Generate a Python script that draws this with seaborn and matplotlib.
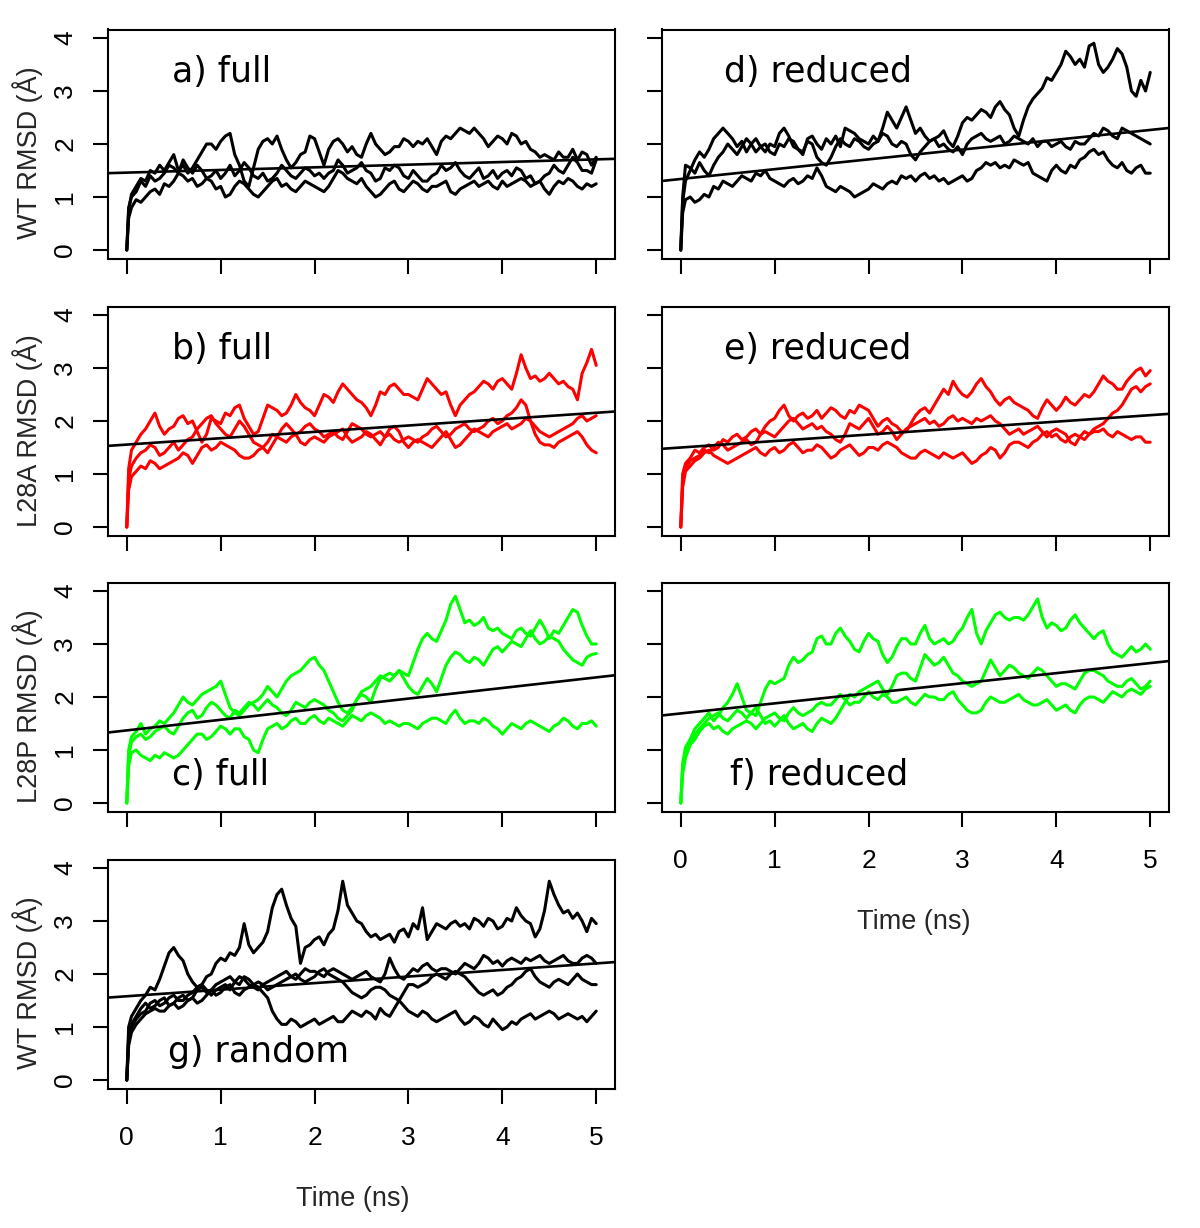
import matplotlib
matplotlib.use("Agg")
import matplotlib.pyplot as plt
import pandas as pd
import seaborn as sns

# ---------------- data ----------------
TIME = [0.0, 0.02,
        0.05, 0.1, 0.15, 0.2, 0.25, 0.3, 0.35, 0.4, 0.45, 0.5,
        0.55, 0.6, 0.65, 0.7, 0.75, 0.8, 0.85, 0.9, 0.95, 1.0,
        1.05, 1.1, 1.15, 1.2, 1.25, 1.3, 1.35, 1.4, 1.45, 1.5,
        1.55, 1.6, 1.65, 1.7, 1.75, 1.8, 1.85, 1.9, 1.95, 2.0,
        2.05, 2.1, 2.15, 2.2, 2.25, 2.3, 2.35, 2.4, 2.45, 2.5,
        2.55, 2.6, 2.65, 2.7, 2.75, 2.8, 2.85, 2.9, 2.95, 3.0,
        3.05, 3.1, 3.15, 3.2, 3.25, 3.3, 3.35, 3.4, 3.45, 3.5,
        3.55, 3.6, 3.65, 3.7, 3.75, 3.8, 3.85, 3.9, 3.95, 4.0,
        4.05, 4.1, 4.15, 4.2, 4.25, 4.3, 4.35, 4.4, 4.45, 4.5,
        4.55, 4.6, 4.65, 4.7, 4.75, 4.8, 4.85, 4.9, 4.95, 5.0]

# a) WT full
A_1 = [0, 0.75,
       1.05, 1.2, 1.35, 1.3, 1.5, 1.45, 1.6, 1.5, 1.65, 1.8,
       1.5, 1.6, 1.45, 1.55, 1.7, 1.85, 2.0, 2.0, 1.9, 2.05,
       2.15, 2.2, 1.8, 1.6, 1.3, 1.2, 1.55, 1.9, 2.05, 2.1,
       2.0, 2.15, 1.9, 1.7, 1.55, 1.65, 1.8, 1.85, 2.15, 2.1,
       1.85, 1.6, 1.9, 2.05, 2.1, 2.0, 1.85, 1.95, 1.8, 1.75,
       2.0, 2.2, 2.0, 1.9, 1.8, 1.85, 1.95, 1.95, 2.1, 2.05,
       1.95, 2.05, 2.0, 2.1, 1.95, 1.8, 2.05, 2.15, 2.1, 2.2,
       2.3, 2.25, 2.2, 2.3, 2.2, 2.1, 1.95, 2.05, 2.15, 2.1,
       2.0, 2.2, 2.15, 2.0, 2.05, 1.9, 1.85, 1.75, 1.8, 1.75,
       1.7, 1.85, 1.75, 1.75, 1.9, 1.7, 1.85, 1.8, 1.6, 1.75]
A_2 = [0, 0.8,
       1.0, 1.1, 1.3, 1.2, 1.4, 1.3, 1.35, 1.45, 1.6, 1.55,
       1.45, 1.7, 1.55, 1.45, 1.6, 1.5, 1.35, 1.4, 1.5, 1.35,
       1.45, 1.6, 1.4, 1.5, 1.65, 1.55, 1.4, 1.35, 1.45, 1.3,
       1.35, 1.45, 1.6, 1.5, 1.4, 1.35, 1.45, 1.55, 1.5, 1.4,
       1.45, 1.35, 1.45, 1.5, 1.7, 1.6, 1.45, 1.5, 1.55, 1.65,
       1.5, 1.45, 1.3, 1.35, 1.55, 1.5, 1.6, 1.55, 1.4, 1.35,
       1.5, 1.4, 1.3, 1.3, 1.4, 1.45, 1.6, 1.5, 1.55, 1.65,
       1.5, 1.4, 1.35, 1.45, 1.55, 1.35, 1.4, 1.5, 1.35, 1.45,
       1.5, 1.4, 1.55, 1.5, 1.35, 1.4, 1.25, 1.3, 1.4, 1.45,
       1.6, 1.5, 1.45, 1.6, 1.75, 1.65, 1.5, 1.5, 1.45, 1.7]
A_3 = [0, 0.6,
       0.8, 0.95, 0.9, 1.0, 1.1, 1.15, 1.05, 1.25, 1.2, 1.3,
       1.45, 1.4, 1.3, 1.35, 1.2, 1.25, 1.35, 1.3, 1.15, 1.2,
       1.0, 1.05, 1.2, 1.3, 1.25, 1.15, 1.05, 1.0, 1.1, 1.2,
       1.3, 1.35, 1.2, 1.25, 1.15, 1.1, 1.2, 1.3, 1.25, 1.2,
       1.15, 1.1, 1.2, 1.35, 1.5, 1.45, 1.35, 1.3, 1.25, 1.35,
       1.2, 1.1, 1.0, 1.05, 1.15, 1.25, 1.3, 1.15, 1.1, 1.2,
       1.3, 1.25, 1.15, 1.1, 1.2, 1.2, 1.25, 1.3, 1.1, 1.05,
       1.15, 1.2, 1.25, 1.3, 1.2, 1.25, 1.3, 1.2, 1.15, 1.3,
       1.2, 1.25, 1.3, 1.35, 1.3, 1.2, 1.25, 1.3, 1.15, 1.05,
       1.2, 1.3, 1.25, 1.35, 1.3, 1.2, 1.15, 1.25, 1.2, 1.25]

# d) WT reduced
D_1 = [0, 0.9,
       1.3, 1.5, 1.7, 1.85, 1.75, 1.9, 2.1, 2.2, 2.3, 2.2,
       2.1, 1.95, 2.05, 1.85, 2.0, 2.1, 1.95, 1.85, 2.0, 1.95,
       2.2, 2.3, 2.15, 1.95, 1.9, 1.8, 2.1, 2.15, 2.0, 1.9,
       2.1, 2.0, 2.15, 1.95, 2.3, 2.25, 2.2, 2.1, 2.05, 2.0,
       2.15, 2.05, 2.3, 2.6, 2.45, 2.3, 2.5, 2.7, 2.45, 2.2,
       2.3, 2.15, 2.05, 2.1, 2.15, 2.25, 2.05, 1.95, 2.15, 2.4,
       2.5, 2.45, 2.55, 2.65, 2.6, 2.5, 2.7, 2.8, 2.65, 2.55,
       2.3, 2.15, 2.45, 2.7, 2.85, 2.95, 3.05, 3.25, 3.2, 3.35,
       3.5, 3.75, 3.65, 3.5, 3.6, 3.45, 3.85, 3.9, 3.5, 3.35,
       3.45, 3.6, 3.8, 3.7, 3.45, 3.0, 2.9, 3.2, 3.0, 3.35]
D_2 = [0, 1.0,
       1.6, 1.55, 1.45, 1.65, 1.5, 1.4, 1.6, 1.75, 1.85, 2.0,
       1.9, 1.8, 1.95, 2.1, 2.0, 1.85, 1.95, 2.0, 1.85, 1.8,
       2.0, 1.95, 2.1, 2.05, 1.9, 1.85, 2.05, 2.0, 1.75, 1.65,
       1.6, 1.75, 1.95, 2.1, 2.0, 1.95, 2.1, 2.05, 1.95, 1.9,
       2.0, 2.05, 2.2, 2.15, 2.0, 1.95, 2.05, 2.0, 1.8, 1.7,
       1.85, 1.95, 2.05, 2.1, 1.95, 2.0, 1.9, 1.85, 1.95, 1.8,
       2.0, 2.1, 2.15, 2.2, 2.1, 2.05, 2.1, 2.15, 2.0, 2.05,
       2.15, 2.1, 2.05, 2.0, 2.1, 1.95, 2.05, 2.05, 1.95, 2.0,
       2.05, 1.95, 1.9, 2.05, 2.0, 2.0, 2.1, 2.2, 2.15, 2.3,
       2.25, 2.15, 2.1, 2.3, 2.25, 2.2, 2.15, 2.1, 2.05, 2.0]
D_3 = [0, 0.7,
       0.95, 1.0, 0.9, 0.95, 1.05, 1.0, 1.2, 1.15, 1.3, 1.25,
       1.2, 1.3, 1.4, 1.35, 1.3, 1.45, 1.4, 1.5, 1.35, 1.3,
       1.25, 1.2, 1.3, 1.35, 1.25, 1.3, 1.4, 1.35, 1.55, 1.4,
       1.2, 1.15, 1.1, 1.2, 1.15, 1.1, 1.0, 1.05, 1.1, 1.15,
       1.25, 1.2, 1.15, 1.25, 1.3, 1.25, 1.4, 1.35, 1.4, 1.3,
       1.4, 1.45, 1.35, 1.4, 1.3, 1.35, 1.25, 1.3, 1.35, 1.4,
       1.3, 1.35, 1.5, 1.55, 1.65, 1.6, 1.65, 1.55, 1.6, 1.55,
       1.7, 1.65, 1.6, 1.65, 1.45, 1.4, 1.35, 1.3, 1.5, 1.6,
       1.5, 1.45, 1.6, 1.55, 1.7, 1.75, 1.85, 1.9, 1.8, 1.85,
       1.7, 1.6, 1.55, 1.65, 1.5, 1.45, 1.55, 1.6, 1.45, 1.45]

# b) L28A full
B_1 = [0, 1.1,
       1.45, 1.6, 1.75, 1.85, 2.0, 2.15, 1.9, 1.75, 1.85, 1.9,
       2.05, 2.1, 1.95, 2.0, 1.8, 1.6, 1.75, 2.05, 2.0, 1.95,
       2.15, 2.1, 2.25, 2.3, 2.05, 1.9, 1.75, 1.8, 2.05, 2.3,
       2.25, 2.2, 2.1, 2.15, 2.3, 2.5, 2.35, 2.25, 2.2, 2.1,
       2.3, 2.5, 2.45, 2.35, 2.55, 2.7, 2.6, 2.5, 2.4, 2.35,
       2.25, 2.1, 2.3, 2.55, 2.5, 2.65, 2.7, 2.6, 2.5, 2.5,
       2.45, 2.4, 2.6, 2.8, 2.7, 2.6, 2.5, 2.55, 2.3, 2.1,
       2.3, 2.4, 2.5, 2.55, 2.65, 2.75, 2.7, 2.6, 2.75, 2.8,
       2.7, 2.6, 2.9, 3.25, 3.0, 2.8, 2.85, 2.75, 2.8, 2.9,
       2.8, 2.7, 2.75, 2.65, 2.6, 2.4, 2.9, 3.1, 3.35, 3.05]
B_2 = [0, 0.9,
       1.15, 1.3, 1.4, 1.45, 1.55, 1.5, 1.35, 1.4, 1.5, 1.6,
       1.45, 1.55, 1.65, 1.7, 1.85, 1.95, 2.05, 2.1, 1.95, 1.85,
       1.75, 1.7, 1.85, 2.0, 1.9, 1.75, 1.6, 1.55, 1.5, 1.6,
       1.75, 1.7, 1.85, 1.95, 1.85, 1.75, 1.8, 1.9, 1.95, 1.85,
       1.8, 1.7, 1.75, 1.8, 1.7, 1.65, 1.8, 1.95, 1.9, 1.85,
       1.75, 1.7, 1.75, 1.8, 1.7, 1.75, 1.65, 1.6, 1.65, 1.7,
       1.65, 1.6, 1.7, 1.75, 1.85, 1.9, 1.8, 1.7, 1.75, 1.85,
       1.9, 1.95, 1.85, 1.8, 1.85, 1.9, 2.0, 2.05, 1.95, 2.0,
       2.1, 2.15, 2.25, 2.4, 2.3, 2.0, 1.75, 1.6, 1.55, 1.55,
       1.5, 1.6, 1.65, 1.7, 1.75, 1.8, 1.7, 1.55, 1.45, 1.4]
B_3 = [0, 0.7,
       0.95, 1.05, 1.15, 1.1, 1.25, 1.2, 1.1, 1.15, 1.2, 1.25,
       1.3, 1.4, 1.35, 1.2, 1.35, 1.5, 1.55, 1.45, 1.5, 1.6,
       1.55, 1.5, 1.45, 1.35, 1.3, 1.3, 1.35, 1.45, 1.5, 1.4,
       1.55, 1.7, 1.65, 1.6, 1.7, 1.75, 1.6, 1.55, 1.65, 1.7,
       1.65, 1.6, 1.7, 1.75, 1.8, 1.85, 1.7, 1.6, 1.65, 1.7,
       1.8, 1.75, 1.65, 1.55, 1.7, 1.85, 1.9, 1.8, 1.6, 1.5,
       1.6, 1.65, 1.6, 1.55, 1.5, 1.6, 1.7, 1.8, 1.65, 1.5,
       1.55, 1.65, 1.75, 1.85, 1.8, 1.75, 1.7, 1.8, 1.85, 1.9,
       1.95, 1.85, 1.9, 1.95, 2.05, 2.0, 1.9, 1.8, 1.75, 1.7,
       1.75, 1.8, 1.85, 1.9, 1.95, 2.05, 2.1, 2.0, 2.05, 2.1]

# e) L28A reduced
E_1 = [0, 1.0,
       1.2, 1.3, 1.45, 1.4, 1.5, 1.55, 1.45, 1.5, 1.65, 1.6,
       1.7, 1.75, 1.65, 1.7, 1.8, 1.85, 1.75, 1.9, 2.0, 2.05,
       2.2, 2.3, 2.1, 2.0, 2.1, 2.15, 2.05, 2.1, 2.2, 2.05,
       2.15, 2.25, 2.2, 2.1, 2.05, 2.2, 2.15, 2.3, 2.25, 2.2,
       2.05, 1.9, 2.0, 2.05, 1.95, 1.9, 1.8, 1.8, 1.95, 2.1,
       2.2, 2.25, 2.15, 2.3, 2.45, 2.6, 2.5, 2.75, 2.6, 2.5,
       2.45, 2.55, 2.7, 2.8, 2.65, 2.55, 2.4, 2.3, 2.4, 2.45,
       2.35, 2.3, 2.25, 2.2, 2.1, 2.05, 2.25, 2.4, 2.3, 2.2,
       2.3, 2.45, 2.35, 2.3, 2.4, 2.5, 2.45, 2.55, 2.7, 2.85,
       2.75, 2.7, 2.6, 2.6, 2.75, 2.85, 2.95, 3.0, 2.85, 2.95]
E_2 = [0, 0.85,
       1.1, 1.25, 1.3, 1.35, 1.45, 1.4, 1.5, 1.6, 1.55, 1.45,
       1.5, 1.55, 1.6, 1.65, 1.55, 1.6, 1.75, 1.8, 1.75, 1.7,
       1.8, 1.9, 2.0, 2.05, 1.95, 1.85, 1.9, 1.95, 1.85, 1.9,
       1.8, 1.75, 1.65, 1.6, 1.75, 1.95, 1.9, 1.85, 1.95, 2.05,
       1.9, 1.75, 1.8, 1.9, 1.8, 1.65, 1.75, 1.85, 1.9, 1.95,
       2.0, 2.05, 1.95, 2.0, 1.9, 1.95, 2.05, 2.1, 2.0, 2.05,
       2.0, 1.95, 2.05, 2.0, 2.05, 2.1, 2.0, 1.95, 1.85, 1.75,
       1.8, 1.85, 1.75, 1.8, 1.85, 1.9, 1.8, 1.7, 1.8, 1.85,
       1.8, 1.75, 1.6, 1.55, 1.7, 1.8, 1.75, 1.85, 1.9, 1.95,
       2.05, 2.15, 2.2, 2.3, 2.45, 2.6, 2.65, 2.55, 2.65, 2.7]
E_3 = [0, 0.75,
       1.05, 1.15, 1.25, 1.3, 1.4, 1.45, 1.35, 1.3, 1.25, 1.2,
       1.25, 1.3, 1.35, 1.4, 1.45, 1.5, 1.4, 1.35, 1.45, 1.5,
       1.4, 1.45, 1.55, 1.6, 1.5, 1.4, 1.45, 1.45, 1.55, 1.5,
       1.4, 1.3, 1.35, 1.45, 1.5, 1.55, 1.45, 1.35, 1.4, 1.5,
       1.5, 1.45, 1.55, 1.6, 1.55, 1.5, 1.4, 1.35, 1.3, 1.3,
       1.4, 1.45, 1.4, 1.35, 1.3, 1.4, 1.35, 1.3, 1.35, 1.4,
       1.3, 1.2, 1.25, 1.35, 1.4, 1.5, 1.45, 1.3, 1.4, 1.55,
       1.6, 1.6, 1.55, 1.5, 1.6, 1.65, 1.75, 1.8, 1.7, 1.75,
       1.65, 1.6, 1.7, 1.75, 1.7, 1.65, 1.75, 1.8, 1.8, 1.85,
       1.75, 1.7, 1.8, 1.75, 1.7, 1.65, 1.7, 1.7, 1.6, 1.6]

# c) L28P full
C_1 = [0, 1.0,
       1.25, 1.35, 1.5, 1.3, 1.4, 1.45, 1.55, 1.5, 1.6, 1.7,
       1.85, 2.0, 1.9, 1.85, 1.95, 2.05, 2.1, 2.15, 2.2, 2.3,
       2.05, 1.8, 1.7, 1.65, 1.75, 1.85, 1.9, 1.95, 2.05, 2.2,
       2.1, 2.0, 2.15, 2.3, 2.4, 2.45, 2.5, 2.6, 2.7, 2.75,
       2.6, 2.5, 2.3, 2.1, 1.9, 1.75, 1.7, 1.8, 1.95, 2.05,
       2.0, 1.9, 2.15, 2.35, 2.4, 2.45, 2.4, 2.5, 2.45, 2.4,
       2.65, 2.9, 3.1, 3.2, 3.1, 3.05, 3.25, 3.45, 3.75, 3.9,
       3.65, 3.4, 3.45, 3.35, 3.4, 3.5, 3.3, 3.25, 3.3, 3.2,
       3.15, 3.1, 3.25, 3.3, 3.2, 3.15, 3.3, 3.45, 3.3, 3.1,
       3.25, 3.2, 3.35, 3.5, 3.65, 3.6, 3.35, 3.15, 3.0, 3.0]
C_2 = [0, 0.9,
       1.15, 1.25, 1.3, 1.2, 1.25, 1.35, 1.4, 1.45, 1.35, 1.3,
       1.45, 1.6, 1.7, 1.75, 1.6, 1.65, 1.8, 1.9, 1.85, 1.75,
       1.65, 1.6, 1.75, 1.7, 1.8, 1.9, 1.85, 1.75, 1.85, 1.95,
       1.85, 1.8, 1.7, 1.65, 1.75, 1.9, 1.85, 1.8, 1.9, 1.95,
       1.9, 1.85, 1.75, 1.7, 1.6, 1.55, 1.65, 1.75, 1.95, 2.1,
       2.15, 2.2, 2.3, 2.4, 2.35, 2.3, 2.4, 2.5, 2.35, 2.2,
       2.1, 2.05, 2.2, 2.35, 2.25, 2.1, 2.35, 2.6, 2.75, 2.85,
       2.8, 2.7, 2.65, 2.75, 2.7, 2.6, 2.75, 2.9, 2.95, 2.85,
       2.95, 3.05, 3.0, 2.95, 3.1, 3.25, 3.1, 3.0, 3.05, 3.15,
       3.1, 3.05, 2.9, 2.8, 2.7, 2.65, 2.6, 2.75, 2.8, 2.82]
C_3 = [0, 0.7,
       0.95, 1.0, 0.9, 0.85, 0.8, 0.9, 0.85, 0.95, 0.9, 0.85,
       0.9, 1.0, 1.1, 1.2, 1.3, 1.3, 1.2, 1.25, 1.35, 1.45,
       1.4, 1.3, 1.4, 1.4, 1.25, 1.2, 1.0, 0.95, 1.2, 1.4,
       1.45, 1.5, 1.4, 1.45, 1.55, 1.6, 1.5, 1.5, 1.6, 1.65,
       1.55, 1.5, 1.6, 1.55, 1.5, 1.45, 1.55, 1.65, 1.6, 1.55,
       1.65, 1.7, 1.65, 1.6, 1.5, 1.55, 1.5, 1.45, 1.5, 1.5,
       1.45, 1.4, 1.5, 1.55, 1.6, 1.6, 1.55, 1.5, 1.65, 1.75,
       1.6, 1.5, 1.55, 1.55, 1.5, 1.6, 1.55, 1.45, 1.4, 1.3,
       1.4, 1.5, 1.45, 1.4, 1.5, 1.55, 1.5, 1.45, 1.4, 1.35,
       1.45, 1.5, 1.6, 1.55, 1.45, 1.4, 1.5, 1.5, 1.55, 1.45]

# f) L28P reduced
F_1 = [0, 0.75,
       1.05, 1.2, 1.4, 1.5, 1.6, 1.7, 1.55, 1.65, 1.8, 1.9,
       2.05, 2.25, 2.0, 1.75, 1.7, 1.65, 1.9, 2.15, 2.3, 2.25,
       2.3, 2.35, 2.6, 2.75, 2.65, 2.7, 2.8, 2.85, 3.1, 3.15,
       3.0, 3.0, 3.2, 3.3, 3.15, 3.05, 2.9, 2.85, 3.05, 3.2,
       3.1, 3.05, 2.8, 2.65, 2.75, 2.95, 3.1, 3.1, 3.0, 3.0,
       3.2, 3.35, 3.1, 3.0, 3.05, 3.1, 3.0, 3.05, 3.2, 3.3,
       3.5, 3.65, 3.2, 3.0, 3.25, 3.4, 3.55, 3.6, 3.5, 3.45,
       3.5, 3.5, 3.45, 3.55, 3.7, 3.85, 3.5, 3.3, 3.4, 3.35,
       3.25, 3.3, 3.45, 3.55, 3.4, 3.3, 3.2, 3.1, 3.2, 3.25,
       3.0, 2.85, 2.8, 2.75, 2.85, 2.95, 2.85, 2.9, 3.0, 2.9]
F_2 = [0, 0.65,
       0.95, 1.15, 1.3, 1.4, 1.5, 1.6, 1.65, 1.7, 1.6, 1.55,
       1.65, 1.75, 1.7, 1.6, 1.7, 1.8, 1.65, 1.5, 1.55, 1.45,
       1.55, 1.65, 1.5, 1.4, 1.45, 1.5, 1.4, 1.35, 1.5, 1.6,
       1.55, 1.5, 1.6, 1.75, 1.9, 2.05, 2.0, 2.1, 2.15, 2.2,
       2.25, 2.3, 2.15, 2.05, 2.2, 2.4, 2.45, 2.45, 2.35, 2.3,
       2.55, 2.8, 2.7, 2.6, 2.65, 2.75, 2.6, 2.45, 2.4, 2.3,
       2.25, 2.2, 2.25, 2.3, 2.5, 2.7, 2.55, 2.4, 2.5, 2.6,
       2.55, 2.45, 2.4, 2.35, 2.45, 2.55, 2.5, 2.4, 2.3, 2.2,
       2.25, 2.25, 2.2, 2.15, 2.3, 2.45, 2.5, 2.5, 2.45, 2.4,
       2.3, 2.25, 2.2, 2.2, 2.3, 2.35, 2.25, 2.15, 2.2, 2.3]
F_3 = [0, 0.55,
       0.85, 1.1, 1.2, 1.35, 1.45, 1.5, 1.4, 1.45, 1.35, 1.3,
       1.4, 1.45, 1.5, 1.55, 1.5, 1.4, 1.5, 1.6, 1.65, 1.7,
       1.6, 1.55, 1.7, 1.8, 1.7, 1.65, 1.7, 1.75, 1.85, 1.9,
       1.85, 1.85, 1.95, 2.05, 1.95, 1.85, 1.9, 1.9, 2.0, 2.1,
       2.0, 1.95, 2.05, 2.0, 1.9, 1.9, 1.95, 2.0, 1.9, 1.85,
       1.95, 2.05, 2.0, 2.0, 1.95, 1.95, 2.05, 2.1, 1.95, 1.85,
       1.75, 1.7, 1.7, 1.75, 1.9, 2.0, 1.95, 1.9, 1.9, 1.95,
       2.0, 2.05, 1.95, 1.9, 1.85, 1.85, 1.9, 1.95, 1.85, 1.75,
       1.8, 1.85, 1.75, 1.7, 1.85, 1.95, 2.0, 2.0, 1.95, 1.9,
       2.0, 2.1, 2.05, 2.0, 2.1, 2.15, 2.1, 2.05, 2.15, 2.2]

# g) WT random
G_1 = [0, 1.0,
       1.2, 1.35, 1.5, 1.6, 1.75, 1.7, 1.9, 2.15, 2.4, 2.5,
       2.35, 2.25, 2.0, 1.85, 1.75, 1.8, 1.95, 2.0, 2.2, 2.3,
       2.25, 2.4, 2.35, 2.5, 2.95, 2.55, 2.4, 2.5, 2.6, 2.8,
       3.25, 3.5, 3.6, 3.3, 3.05, 2.9, 2.2, 2.5, 2.55, 2.65,
       2.7, 2.55, 2.75, 2.85, 3.2, 3.75, 3.3, 3.15, 3.0, 2.95,
       2.8, 2.7, 2.75, 2.65, 2.7, 2.75, 2.6, 2.8, 2.85, 2.7,
       2.95, 2.85, 3.25, 2.65, 2.8, 2.95, 2.9, 2.85, 2.95, 3.0,
       2.9, 2.95, 2.85, 3.05, 3.0, 2.9, 3.05, 3.0, 2.85, 2.9,
       3.05, 3.0, 3.25, 3.1, 3.0, 2.95, 2.7, 2.85, 3.2, 3.75,
       3.5, 3.3, 3.15, 3.2, 3.05, 3.15, 3.0, 2.8, 3.05, 2.95]
G_2 = [0, 0.85,
       1.05, 1.2, 1.35, 1.45, 1.35, 1.4, 1.5, 1.55, 1.4, 1.45,
       1.55, 1.6, 1.5, 1.55, 1.7, 1.75, 1.65, 1.7, 1.8, 1.85,
       1.9, 1.95, 1.85, 1.8, 1.95, 1.9, 1.8, 1.75, 1.65, 1.55,
       1.3, 1.15, 1.05, 1.05, 1.15, 1.1, 1.0, 1.05, 1.1, 1.15,
       1.05, 1.1, 1.15, 1.2, 1.1, 1.1, 1.2, 1.3, 1.25, 1.2,
       1.3, 1.25, 1.15, 1.35, 1.25, 1.2, 1.35, 1.5, 1.4, 1.3,
       1.25, 1.2, 1.3, 1.25, 1.15, 1.1, 1.15, 1.2, 1.25, 1.3,
       1.15, 1.05, 1.1, 1.2, 1.15, 1.05, 1.0, 1.15, 1.05, 0.95,
       1.0, 1.1, 1.05, 1.15, 1.2, 1.25, 1.15, 1.2, 1.25, 1.3,
       1.25, 1.15, 1.2, 1.25, 1.2, 1.15, 1.2, 1.1, 1.2, 1.3]
G_3 = [0, 0.75,
       1.0, 1.15, 1.25, 1.3, 1.45, 1.5, 1.4, 1.45, 1.55, 1.6,
       1.5, 1.5, 1.6, 1.65, 1.75, 1.8, 1.7, 1.6, 1.7, 1.75,
       1.8, 1.7, 1.85, 1.95, 1.9, 1.8, 1.75, 1.7, 1.8, 1.85,
       1.9, 1.95, 2.0, 2.05, 1.95, 1.9, 2.0, 2.1, 2.05, 2.05,
       2.0, 1.95, 2.05, 2.1, 2.05, 2.0, 1.95, 1.9, 1.95, 2.0,
       2.05, 1.95, 1.9, 1.85, 2.0, 2.3, 2.1, 1.95, 1.9, 2.0,
       2.1, 2.05, 2.15, 2.2, 2.1, 2.05, 2.1, 2.1, 2.05, 2.0,
       2.1, 2.2, 2.15, 2.1, 2.2, 2.35, 2.3, 2.2, 2.25, 2.15,
       2.25, 2.3, 2.25, 2.2, 2.3, 2.25, 2.3, 2.35, 2.25, 2.2,
       2.25, 2.3, 2.35, 2.25, 2.2, 2.2, 2.3, 2.35, 2.3, 2.2]
G_4 = [0, 0.65,
       0.9, 1.05, 1.15, 1.25, 1.3, 1.35, 1.3, 1.3, 1.4, 1.45,
       1.35, 1.4, 1.5, 1.55, 1.45, 1.5, 1.6, 1.7, 1.6, 1.65,
       1.75, 1.8, 1.65, 1.6, 1.7, 1.75, 1.8, 1.85, 1.8, 1.7,
       1.75, 1.8, 1.85, 1.9, 1.95, 2.0, 1.9, 1.85, 1.9, 1.95,
       2.05, 2.1, 2.0, 1.95, 1.9, 1.85, 1.75, 1.65, 1.6, 1.55,
       1.6, 1.7, 1.75, 1.75, 1.7, 1.6, 1.55, 1.5, 1.65, 1.8,
       1.8, 1.75, 1.8, 1.85, 1.95, 2.0, 1.95, 1.9, 2.0, 2.05,
       2.0, 1.95, 1.85, 1.75, 1.65, 1.6, 1.65, 1.7, 1.6, 1.65,
       1.75, 1.8, 1.9, 1.95, 2.05, 2.1, 1.95, 1.85, 1.8, 1.75,
       1.85, 1.9, 1.85, 1.8, 1.9, 2.0, 1.9, 1.85, 1.8, 1.8]

# linear fits (intercept, slope)
FIT_A = (1.46, 0.050)
FIT_D = (1.34, 0.185)
FIT_B = (1.555, 0.120)
FIT_E = (1.50, 0.122)
FIT_C = (1.37, 0.200)
FIT_F = (1.69, 0.190)
FIT_G = (1.58, 0.124)

X_TICKS = [0, 1, 2, 3, 4, 5]
Y_TICKS = [0, 1, 2, 3, 4]

# ---------------- style ----------------
sns.set_style("ticks")
plt.rcParams["font.family"] = ["Liberation Sans", "DejaVu Sans"]

W, H = 1200, 1228
fig = plt.figure(figsize=(W / 100, H / 100), dpi=100)

LEFT_X, RIGHT_X, AX_W = 108 / W, 662 / W, 507 / W
AX_H = 229 / H
ROWS = [1 - 258.5 / H, 1 - 535.5 / H, 1 - 811.5 / H, 1 - 1088.5 / H]

RED = "#FF0000"
GREEN = "#00FF00"

panels = [
    dict(pos=(LEFT_X, ROWS[0]), runs=[A_1, A_2, A_3], color="black", fit=FIT_A,
         text="a) full", tpos=(0.48, 3.36), ylabel="WT RMSD (Å)", xlab=False, ylab=True, xtitle=None),
    dict(pos=(RIGHT_X, ROWS[0]), runs=[D_1, D_2, D_3], color="black", fit=FIT_D,
         text="d) reduced", tpos=(0.46, 3.36), ylabel=None, xlab=False, ylab=False, xtitle=None),
    dict(pos=(LEFT_X, ROWS[1]), runs=[B_1, B_2, B_3], color=RED, fit=FIT_B,
         text="b) full", tpos=(0.48, 3.36), ylabel="L28A RMSD (Å)", xlab=False, ylab=True, xtitle=None),
    dict(pos=(RIGHT_X, ROWS[1]), runs=[E_1, E_2, E_3], color=RED, fit=FIT_E,
         text="e) reduced", tpos=(0.46, 3.36), ylabel=None, xlab=False, ylab=False, xtitle=None),
    dict(pos=(LEFT_X, ROWS[2]), runs=[C_1, C_2, C_3], color=GREEN, fit=FIT_C,
         text="c) full", tpos=(0.48, 0.53), ylabel="L28P RMSD (Å)", xlab=False, ylab=True, xtitle=None),
    dict(pos=(RIGHT_X, ROWS[2]), runs=[F_1, F_2, F_3], color=GREEN, fit=FIT_F,
         text="f) reduced", tpos=(0.52, 0.53), ylabel=None, xlab=True, ylab=False, xtitle=0.497),
    dict(pos=(LEFT_X, ROWS[3]), runs=[G_1, G_2, G_3, G_4], color="black", fit=FIT_G,
         text="g) random", tpos=(0.44, 0.53), ylabel="WT RMSD (Å)", xlab=True, ylab=True, xtitle=0.482),
]

for p in panels:
    ax = fig.add_axes([p["pos"][0], p["pos"][1], AX_W, AX_H])
    frames = []
    for i, run in enumerate(p["runs"]):
        frames.append(pd.DataFrame({"time": TIME, "rmsd": run, "run": i}))
    df = pd.concat(frames, ignore_index=True)
    sns.lineplot(data=df, x="time", y="rmsd", units="run", estimator=None,
                 color=p["color"], lw=2.2, sort=False, ax=ax, legend=False)
    b, m = p["fit"]
    ax.axline((0, b), slope=m, color="black", lw=1.9, zorder=5)

    ax.set_xlim(-0.2, 5.2)
    ax.set_ylim(-0.16, 4.16)
    ax.set_xticks(X_TICKS)
    ax.set_yticks(Y_TICKS)
    for s in ax.spines.values():
        s.set_visible(True)
        s.set_linewidth(1.5)
        s.set_color("black")
    ax.tick_params(axis="both", direction="out", length=11, width=1.5,
                   labelsize=19, colors="black")
    ax.tick_params(axis="x", pad=16, labelbottom=p["xlab"])
    ax.tick_params(axis="y", pad=11, labelleft=p["ylab"], labelrotation=90)
    for lab in ax.get_yticklabels():
        lab.set_va("center")

    ax.text(p["tpos"][0], p["tpos"][1], p["text"], fontsize=25,
            family=["DejaVu Sans"], ha="left", va="center", color="black")

    if p["ylabel"]:
        ax.set_ylabel(p["ylabel"], fontsize=19.5)
        ax.yaxis.set_label_coords(-0.128, 0.46)
    else:
        ax.set_ylabel("")
    if p["xtitle"] is not None:
        ax.set_xlabel("Time (ns)", fontsize=19.5)
        ax.xaxis.set_label_coords(p["xtitle"], -0.426)
    else:
        ax.set_xlabel("")

fig.savefig("out.png", dpi=100)
